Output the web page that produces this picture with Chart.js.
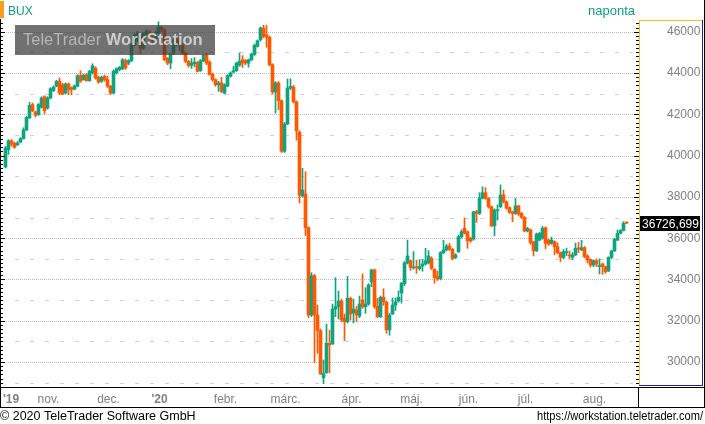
<!DOCTYPE html>
<html>
<head>
<meta charset="utf-8">
<script src="https://cdn.jsdelivr.net/npm/chart.js@4.4.1/dist/chart.umd.min.js"></script>
<style>
  html, body { margin: 0; padding: 0; background: #fff; }
  #wrap { width: 705px; height: 424px; }
</style>
</head>
<body>
<div id="wrap"><canvas id="bux" width="705" height="424"></canvas></div>
<script>
// BUX daily candles, mid Oct 2019 - mid Aug 2020
const opens = [
  39450, 40290, 40720, 40600, 40530, 40660, 40820, 41240, 41820, 42470,
  42110, 41980, 42340, 42850, 42300, 42790, 43150, 43360, 43600, 43430,
  43030, 43470, 43280, 43220, 43360, 43870, 43680, 43920, 43630, 44000,
  44240, 43790, 43600, 43840, 43680, 43360, 43030, 44000, 44160, 44210,
  44600, 44480, 44600, 45360, 45600, 45800, 45200, 45900, 46000, 45700,
  45550, 45950, 46200, 46080, 44720, 44480, 44970, 45700, 45400, 45370,
  44970, 44570, 44370, 44450, 44520, 44110, 44580, 44860, 44530, 43950,
  43680, 43430, 43520, 43030, 43370, 43840, 44050, 44110, 44370, 44640,
  44600, 44480, 44640, 44890, 45290, 45610, 46180, 45850, 45730, 44400,
  43080, 43520, 42660, 40210, 41530, 43270, 43320, 42600, 41140, 38040,
  38140, 36510, 32280, 34180, 32280, 31520, 29240, 29490, 30910, 30880,
  32570, 32680, 32960, 32130, 31950, 33090, 32380, 32520, 32230, 33010,
  32680, 32810, 33890, 34460, 32700, 32200, 33140, 32900, 31560, 32330,
  32760, 32960, 33350, 33800, 34790, 34910, 34560, 34590, 34520, 34650,
  34750, 34800, 35020, 34490, 34150, 34040, 35300, 35430, 35620, 35460,
  35060, 35350, 36070, 36480, 36310, 35990, 35960, 37280, 37200, 37930,
  38200, 37930, 37520, 36600, 37330, 37520, 38090, 37770, 37480, 37280,
  37200, 37560, 37200, 37010, 36350, 36400, 35830, 35390, 35910, 36000,
  36500, 35910, 35750, 35830, 35590, 35300, 35070, 35300, 35190, 35070,
  35190, 35510, 35430, 35540, 35140, 34970, 34700, 34910, 34630, 34750,
  34620, 34420, 35070, 35390, 35910, 36240, 36370, 36760
];
const highs = [
  40450, 40770, 40770, 40650, 40680, 40870, 41350, 41900, 42580, 42550,
  42150, 42520, 42850, 42900, 42850, 43290, 43380, 43650, 43760, 43500,
  43520, 43520, 43330, 43420, 43920, 44110, 43950, 43970, 44130, 44450,
  44300, 43850, 43850, 43900, 43850, 43400, 44150, 44250, 44320, 44700,
  44680, 44650, 45420, 45900, 46020, 45900, 45950, 46100, 46080, 45800,
  46050, 46480, 46250, 46150, 44750, 44950, 45700, 45750, 45700, 45450,
  45000, 44600, 44700, 44750, 44560, 44650, 44900, 44950, 44600, 44000,
  43720, 43600, 43790, 43480, 43920, 44050, 44320, 44530, 44970, 44840,
  44650, 44680, 44970, 45400, 45600, 46230, 46310, 46310, 45800, 44450,
  43580, 43580, 42700, 41600, 43710, 43720, 43400, 42650, 41200, 39380,
  39220, 36550, 34330, 34250, 32760, 31600, 30100, 31840, 31550, 32810,
  34090, 33440, 33050, 32330, 34150, 33150, 33050, 32700, 33200, 34270,
  33600, 33800, 34500, 34500, 33090, 33200, 33550, 32950, 32350, 33100,
  33100, 33450, 33850, 34870, 35910, 34950, 35350, 34940, 34960, 34960,
  35510, 35400, 35100, 34520, 34400, 35350, 35900, 35700, 35750, 35500,
  35250, 36150, 36400, 36980, 36350, 36050, 37300, 37350, 38200, 38490,
  38450, 37980, 37560, 37420, 37610, 38580, 38330, 37800, 37520, 37300,
  37930, 37600, 37250, 37050, 36520, 36450, 35850, 36250, 36280, 36570,
  36550, 35950, 36050, 35870, 35780, 35330, 35450, 35520, 35380, 35310,
  35760, 35800, 35900, 35600, 35200, 35000, 34950, 35000, 35000, 34800,
  34650, 35100, 35420, 36000, 36400, 36420, 36800, 36800
];
const lows = [
  39400, 40060, 40450, 40350, 40480, 40620, 40800, 41200, 41800, 42120,
  41870, 41950, 42300, 42030, 42250, 42750, 43100, 43330, 42950, 42950,
  42980, 42950, 42950, 43180, 43330, 43550, 43650, 43600, 43600, 43950,
  43700, 43500, 43550, 43600, 43300, 42950, 42980, 43950, 44100, 44150,
  44180, 44400, 44550, 45300, 45500, 44950, 45150, 45850, 45600, 45450,
  45500, 45900, 46000, 44600, 44400, 44210, 44900, 45300, 45100, 44900,
  44500, 44280, 44220, 44300, 44050, 44080, 44550, 44400, 43900, 43600,
  43350, 43110, 43050, 42980, 43330, 43800, 44000, 44080, 44330, 44270,
  44400, 44280, 44600, 44850, 45250, 45550, 45700, 45250, 44350, 43000,
  42060, 42220, 40150, 40150, 41500, 43200, 42550, 40750, 37700, 38000,
  36120, 32150, 32200, 29970, 30420, 29400, 28950, 29450, 29480, 30850,
  32200, 32090, 31960, 31040, 31900, 32030, 31900, 31950, 32150, 32600,
  32360, 32750, 33650, 32600, 32150, 32150, 32750, 31390, 31300, 32300,
  32500, 32900, 32860, 33700, 34750, 34440, 34500, 34300, 34450, 34400,
  34700, 34750, 34480, 33820, 33950, 33980, 35250, 35380, 35400, 34950,
  35000, 35300, 36000, 36200, 35510, 35800, 35900, 36760, 37150, 37900,
  37880, 37450, 36550, 36120, 36880, 37480, 37700, 37400, 37200, 36800,
  37150, 37100, 36950, 36300, 36300, 35700, 35140, 35350, 35870, 35950,
  35480, 35650, 35700, 35190, 35250, 34860, 35000, 35160, 34990, 34960,
  35150, 35300, 35400, 35050, 34800, 34600, 34620, 34620, 34270, 34250,
  34300, 34380, 35000, 35350, 35880, 36200, 36350, 36700
];
const closes = [
  40370, 40720, 40560, 40400, 40610, 40820, 41250, 41850, 42430, 42170,
  41950, 42470, 42790, 42170, 42790, 43240, 43310, 43600, 43030, 42980,
  43470, 43190, 43190, 43380, 43870, 43600, 43890, 43630, 44080, 44350,
  43760, 43560, 43790, 43680, 43360, 43030, 44080, 44210, 44280, 44640,
  44240, 44600, 45370, 45840, 45950, 45200, 45900, 46000, 45700, 45550,
  45950, 46200, 46080, 44640, 44480, 44920, 45610, 45370, 45530, 44970,
  44570, 44370, 44480, 44530, 44080, 44600, 44860, 44480, 43920, 43680,
  43430, 43520, 43110, 43430, 43870, 44000, 44110, 44480, 44570, 44480,
  44480, 44640, 44920, 45340, 45560, 46180, 45780, 45730, 44400, 43080,
  43520, 42660, 40210, 41530, 43270, 43350, 42600, 41200, 38080, 38330,
  36510, 32280, 34180, 32280, 31520, 29420, 29450, 30910, 30830, 32570,
  32680, 32960, 32040, 31950, 33090, 32330, 32570, 32280, 32810, 32680,
  32810, 33730, 34460, 32680, 32200, 33140, 32920, 31560, 32280, 32760,
  32920, 33140, 33830, 34810, 35140, 34590, 34590, 34570, 34630, 34750,
  34910, 35140, 34540, 34100, 34040, 35300, 35430, 35620, 35460, 35020,
  35190, 36070, 36310, 36240, 35880, 35860, 37280, 37200, 37930, 38200,
  37930, 37520, 36600, 37360, 37360, 38090, 37770, 37450, 37250, 37200,
  37560, 37170, 37010, 36350, 36480, 35780, 35390, 36200, 36240, 36480,
  35750, 35720, 35910, 35590, 35300, 35070, 35350, 35330, 35140, 35190,
  35510, 35480, 35540, 35110, 34940, 34700, 34910, 34750, 34670, 34620,
  34380, 35070, 35380, 35950, 36240, 36370, 36720, 36726.699
];

// month labels on the time axis and trading days in each month
const monthLabels = ["'19", 'nov.', 'dec.', "'20", 'febr.', 'márc.', 'ápr.', 'máj.', 'jún.', 'júl.', 'aug.'];
const monthDays = [14, 20, 17, 22, 20, 22, 20, 19, 19, 23, 12];

// price axis labels
const yTicks = [30000, 32000, 34000, 36000, 38000, 40000, 42000, 44000, 46000];

const GREEN = '#0fa47f';
const ORANGE = '#ff5800';
const FONT = '"Liberation Sans", Arial, sans-serif';

const monthStarts = [];
monthDays.reduce(function(acc, d) { monthStarts.push(acc); return acc + d; }, 0);

const candleColors = closes.map(function(c, i) { return c >= opens[i] ? GREEN : ORANGE; });
const wickData = highs.map(function(h, i) { return {x: i, y: [lows[i], h]}; });
const bodyData = opens.map(function(o, i) { return {x: i, y: [o, closes[i]]}; });

// grid, borders, header, footer and the watermark
const frame = {
    id: 'frame',
    beforeDatasetsDraw(chart) {
        const {ctx, chartArea: a, scales: {y}} = chart;
        ctx.save();
        ctx.lineWidth = 1;
        for (let v = 29000; v <= 46000; v += 1000) {
            const py = Math.round(y.getPixelForValue(v)) + 0.5;
            const major = v % 2000 === 0;
            ctx.strokeStyle = major ? '#bcbcbc' : '#d0d0d0';
            ctx.setLineDash(major ? [1, 1] : [4, 11]);
            ctx.beginPath();
            ctx.moveTo(major ? a.left + 1 : 0, py);
            ctx.lineTo(a.right - 5, py);
            ctx.stroke();
        }
        ctx.restore();
    },
    afterDatasetsDraw(chart) {
        const ctx = chart.ctx;
        ctx.save();
        ctx.fillStyle = 'rgba(58,58,58,0.72)';
        ctx.fillRect(15, 25, 200, 30);
        ctx.textBaseline = 'alphabetic';
        ctx.textAlign = 'left';
        ctx.font = '16.5px ' + FONT;
        ctx.fillStyle = 'rgba(190,190,190,0.9)';
        ctx.fillText('TeleTrader ', 23, 45);
        const w = ctx.measureText('TeleTrader ').width;
        ctx.font = 'bold 16.5px ' + FONT;
        ctx.fillStyle = 'rgba(215,215,215,0.9)';
        ctx.fillText('WorkStation', 23 + w, 45);
        ctx.restore();
    },
    afterDraw(chart) {
        const {ctx, chartArea: a, scales: {x, y}} = chart;
        ctx.save();

        // tick marks on both sides of the plot
        ctx.fillStyle = '#000';
        for (let v = 28800; v <= 46600; v += 200) {
            const py = Math.round(y.getPixelForValue(v));
            if (py < a.top || py > a.bottom - 1) continue;
            const len = v % 2000 === 0 ? 5 : 3;
            ctx.fillRect(0, py, len, 1);
            ctx.fillRect(639 - len, py, len, 1);
        }

        // price panel frame
        ctx.fillStyle = '#f2c21b';
        ctx.fillRect(639, 20, 1, 366);
        ctx.fillRect(639, 20, 64, 1);
        ctx.fillStyle = '#1a2a9a';
        ctx.fillRect(702, 20, 1, 366);
        ctx.fillRect(639, 385, 64, 1);

        // black lines
        ctx.fillStyle = '#000';
        ctx.fillRect(0, 19, 1, 389);
        ctx.fillRect(704, 0, 1, 408);
        ctx.fillRect(0, 387, 705, 1);
        ctx.fillRect(0, 407, 705, 1);
        ctx.fillRect(638, 387, 1, 21);

        // month labels
        ctx.textBaseline = 'alphabetic';
        ctx.fillStyle = '#808080';
        monthLabels.forEach(function(lbl, k) {
            const isYear = lbl.charAt(0) === "'";
            ctx.font = (isYear ? 'bold ' : '') + '12px ' + FONT;
            if (k === 0) {
                ctx.textAlign = 'left';
                ctx.fillText(lbl, 3, 403);
            } else {
                ctx.textAlign = 'center';
                ctx.fillText(lbl, x.getPixelForValue(monthStarts[k]) + 1, 403);
            }
        });

        // header
        ctx.fillStyle = '#f5a01a';
        ctx.fillRect(0, 1, 4, 17);
        ctx.font = '12px ' + FONT;
        ctx.fillStyle = '#0a9f7f';
        ctx.textAlign = 'left';
        ctx.fillText('BUX', 8, 15);
        ctx.font = '13px ' + FONT;
        ctx.textAlign = 'right';
        ctx.fillText('naponta', 635, 15);

        // footer
        ctx.fillStyle = '#000';
        ctx.font = '12.5px ' + FONT;
        ctx.textAlign = 'left';
        ctx.fillText('\u00A9 2020 TeleTrader Software GmbH', 0, 420);
        ctx.font = '12px ' + FONT;
        ctx.textAlign = 'right';
        ctx.fillText('https://workstation.teletrader.com/', 703, 420, 166);

        // last value box
        const last = closes[closes.length - 1];
        const py = Math.round(y.getPixelForValue(last));
        ctx.fillStyle = '#000';
        ctx.fillRect(640, py - 7, 60, 15);
        ctx.fillStyle = '#fff';
        ctx.font = '13px ' + FONT;
        ctx.textAlign = 'right';
        ctx.fillText(last.toFixed(3).replace('.', ','), 699, py + 5, 57);

        ctx.restore();
    }
};

new Chart(document.getElementById('bux'), {
    type: 'bar',
    data: {
        datasets: [
            {
                label: 'wick',
                data: wickData,
                backgroundColor: candleColors,
                barThickness: 1,
                grouped: false,
                order: 2
            },
            {
                label: 'body',
                data: bodyData,
                backgroundColor: candleColors,
                barThickness: 3,
                minBarLength: 1,
                grouped: false,
                order: 1
            }
        ]
    },
    options: {
        responsive: false,
        animation: false,
        devicePixelRatio: 1,
        layout: { padding: { left: 1, top: 20, right: 0, bottom: 17 } },
        plugins: { legend: { display: false }, tooltip: { enabled: false } },
        scales: {
            x: {
                type: 'linear',
                min: -1.5,
                max: 210.83,
                offset: false,
                grid: { display: false },
                border: { display: false },
                ticks: { display: false },
                afterFit: function(s) { s.height = 20; }
            },
            y: {
                position: 'right',
                min: 28793,
                max: 46567,
                grid: { display: false, drawTicks: true, tickLength: 28 },
                border: { display: false },
                afterBuildTicks: function(s) { s.ticks = yTicks.map(function(v) { return {value: v}; }); },
                afterFit: function(s) { s.width = 67; },
                ticks: {
                    padding: 1,
                    color: '#808080',
                    font: { family: FONT, size: 12 },
                    callback: function(v) { return String(v); }
                }
            }
        }
    },
    plugins: [frame]
});
</script>
</body>
</html>
